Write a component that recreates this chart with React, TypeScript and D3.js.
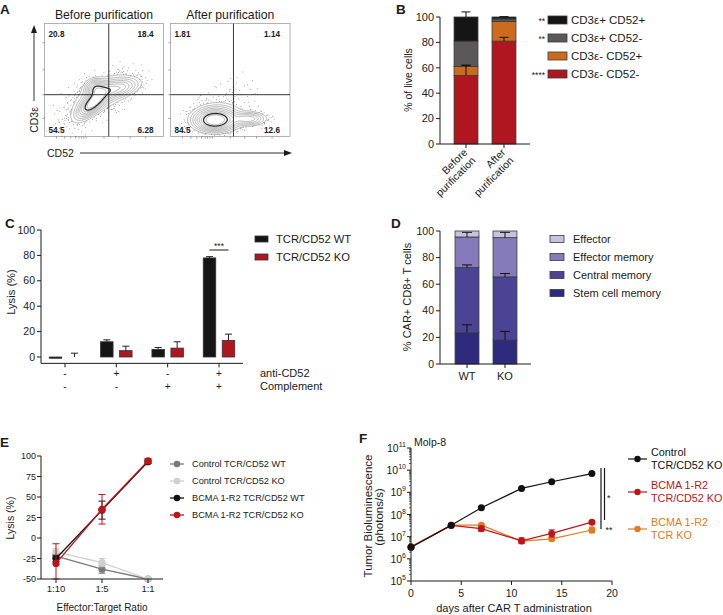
import React from "react";
import * as d3 from "d3";

const FONT = "'Liberation Sans', Arial, Helvetica, sans-serif";
const INK = "#1a1a1a";

// ---------------- Panel A (flow cytometry) ----------------
const flowTitles = ["Before purification", "After purification"];
const beforeQuadrants = ["20.8", "18.4", "54.5", "6.28"];
const afterQuadrants = ["1.81", "1.14", "84.5", "12.6"];
// cluster descriptors: [u, v, spreadU, spreadV, rotationDeg, weight] in plot-box fractions
const beforeClusters = [
  [0.41, 0.7, 0.1, 0.04, -45, 1.0],
  [0.43, 0.57, 0.05, 0.045, -10, 0.6],
  [0.63, 0.57, 0.1, 0.045, -15, 0.5],
  [0.48, 0.63, 0.16, 0.08, -30, 0.3],
  [0.2, 0.86, 0.12, 0.1, 0, 0.025],
];
const afterClusters = [
  [0.37, 0.855, 0.1, 0.055, 0, 1.0],
  [0.66, 0.84, 0.08, 0.035, 0, 0.45],
  [0.4, 0.8, 0.12, 0.07, 0, 0.22],
  [0.55, 0.55, 0.12, 0.12, 0, 0.015],
];
const beforeGate = [0.54, 0.63];
const afterGate = [0.527, 0.63];

// ---------------- Panel B ----------------
const bCategories = ["Before purification", "After purification"];
const bNegNeg = [54, 81];
const bNegPos = [7, 15.5];
const bPosNeg = [20, 2];
const bPosPos = [19, 1.5];
const bNegNegErr = [8, 3];
const bNegPosErr = [1, 0];
const bPosNegErr = [0, 0];
const bPosPosErr = [4, 0.3];
const bLabels = ["CD3ε- CD52-", "CD3ε- CD52+", "CD3ε+ CD52-", "CD3ε+ CD52+"];
const bStars = ["****", "", "**", "**"];
const bColors = ["#b0161f", "#cc6a1f", "#5b5859", "#151515"];
const bTicks = [0, 20, 40, 60, 80, 100];

// ---------------- Panel C ----------------
const cGroups = ["g1", "g2", "g3", "g4"];
const cAntiCD52 = ["-", "+", "-", "+"];
const cComplement = ["-", "-", "+", "+"];
const cWT = [-1, 12, 6, 78];
const cWTErr = [0, 1.5, 1.5, 1];
const cKO = [0, 5, 7, 13];
const cKOErr = [3, 3.5, 5, 5];
const cSeries = ["TCR/CD52 WT", "TCR/CD52 KO"];
const cColors = ["#151515", "#b0161f"];
const cTicks = [0, 20, 40, 60, 80, 100];

// ---------------- Panel D ----------------
const dGroups = ["WT", "KO"];
const dStem = [23.5, 18];
const dCentral = [49, 47.5];
const dEffMem = [23, 29.5];
const dEff = [4.5, 5];
const dStemErr = [6, 6.5];
const dCentralErr = [2, 2.5];
const dEffMemErr = [3.5, 4];
const dLabels = ["Stem cell memory", "Central memory", "Effector memory", "Effector"];
const dColors = ["#2e2a7d", "#4b4394", "#857bba", "#c8c2e2"];
const dTicks = [0, 20, 40, 60, 80, 100];

// ---------------- Panel E ----------------
const eRatios = ["1:10", "1:5", "1:1"];
const eCtrlWT = [-22, -38, -50];
const eCtrlWTErr = [3, 5, 1];
const eCtrlKO = [-17, -30, -50];
const eCtrlKOErr = [4, 5, 1];
const eBcmaWT = [-25, 34, 93];
const eBcmaWTErr = [4, 11, 2];
const eBcmaKO = [-31, 35, 94];
const eBcmaKOErr = [24, 18, 3];
const eNames = ["Control TCR/CD52 WT", "Control TCR/CD52 KO", "BCMA 1-R2 TCR/CD52 WT", "BCMA 1-R2 TCR/CD52 KO"];
const eColors = ["#7a7a7a", "#cfcfcf", "#111111", "#c0141c"];
const eTicks = [-50, -25, 0, 25, 50, 75, 100];

// ---------------- Panel F ----------------
const fDays = [0, 4, 7, 11, 14, 18];
const fControl = [3.3e6, 3.3e7, 2e8, 1.5e9, 3e9, 7e9];
const fControlErr = [1.05, 1.05, 1.05, 1.05, 1.05, 1.05];
const fBcmaCD52 = [3.3e6, 3.2e7, 2.3e7, 6.5e6, 1.4e7, 4.5e7];
const fBcmaCD52Err = [1.15, 1.1, 1.3, 1.35, 1.45, 1.15];
const fBcmaTCR = [3.6e6, 3.3e7, 3.3e7, 6.3e6, 8e6, 2e7];
const fBcmaTCRErr = [1.1, 1.1, 1.15, 1.2, 1.2, 1.35];
const fNames = [["Control", "TCR/CD52 KO"], ["BCMA 1-R2", "TCR/CD52 KO"], ["BCMA 1-R2", "TCR KO"]];
const fColors = ["#111111", "#c0141c", "#e07b22"];
const fTextColors = ["#111111", "#c0141c", "#e07b22"];
const fXTicks = [0, 5, 10, 15, 20];
const fExponents = [5, 6, 7, 8, 9, 10, 11];

function halton(i: number, b: number) {
  let f = 1, r = 0;
  while (i > 0) { f /= b; r += f * (i % b); i = Math.floor(i / b); }
  return r;
}

function ErrBar({ x, y1, y2, cap, color, sw = 1 }: any) {
  return (
    <g stroke={color} strokeWidth={sw}>
      <line x1={x} x2={x} y1={y1} y2={y2} />
      <line x1={x - cap / 2} x2={x + cap / 2} y1={y2} y2={y2} />
    </g>
  );
}

function Flow({ x0, y0, w, h, clusters, gate, quads, title }: any) {
  const dens = (u: number, v: number) => {
    let s = 0;
    for (const [cu, cv, sx, sy, rot, wt] of clusters) {
      const a = (rot * Math.PI) / 180;
      const du = u - cu, dv = v - cv;
      const p = du * Math.cos(a) + dv * Math.sin(a);
      const q = -du * Math.sin(a) + dv * Math.cos(a);
      s += wt * Math.exp(-0.5 * ((p * p) / (sx * sx) + (q * q) / (sy * sy)));
    }
    return s;
  };
  const nx = Math.round(w * 1.5), ny = Math.round(h * 1.5);
  const values = new Array(nx * ny);
  let mx = 0;
  for (let j = 0; j < ny; j++)
    for (let i = 0; i < nx; i++) {
      const d = dens((i + 0.5) / nx, (j + 0.5) / ny);
      values[j * nx + i] = d;
      if (d > mx) mx = d;
    }
  const low = 0.08;
  const levels = [low, 0.13, 0.19, 0.26, 0.34, 0.43, 0.53, 0.64, 0.76];
  const contours = d3.contours().size([nx, ny]).thresholds(levels.map((t) => t * mx))(values);
  const path = d3.geoPath(d3.geoIdentity().scale(w / nx));
  const dots: number[][] = [];
  for (let i = 1; i < 5000; i++) {
    const u = halton(i, 2), v = halton(i, 3), r = halton(i, 5);
    const d = dens(u, v) / mx;
    if (d < low && d > 0.004 && r < Math.min(1, d / low) * 0.55) dots.push([u, v]);
  }
  const gx = x0 + gate[0] * w, gy = y0 + gate[1] * h;
  const leftTicks = [0.17, 0.41, 0.63, 0.84];
  const bottomTicks = [0.1, 0.17, 0.22, 0.26, 0.29, 0.31, 0.33, 0.35, 0.5, 0.62, 0.72, 0.85];
  return (
    <g>
      <text x={x0 + w / 2} y={y0 - 5} textAnchor="middle" fontSize={12.2} fill={INK}>{title}</text>
      <rect x={x0} y={y0} width={w} height={h} fill="#fff" stroke="#a0a0a0" strokeWidth={0.8} />
      {leftTicks.map((t, i) => (
        <line key={"l" + i} x1={x0 - 2} x2={x0} y1={y0 + t * h} y2={y0 + t * h} stroke="#777" strokeWidth={0.7} />
      ))}
      {bottomTicks.map((t, i) => (
        <line key={"b" + i} x1={x0 + t * w} x2={x0 + t * w} y1={y0 + h} y2={y0 + h + 2} stroke="#777" strokeWidth={0.7} />
      ))}
      {dots.map((p, i) => (
        <rect key={i} x={x0 + p[0] * w - 0.35} y={y0 + p[1] * h - 0.35} width={0.7} height={0.7} fill="#555" />
      ))}
      <g transform={`translate(${x0},${y0})`} fill="none">
        {contours.map((c, i) => (
          <path key={i} d={path(c as any) || ""} stroke={i === levels.length - 2 ? "#2a2a2a" : "#7a7a7a"} strokeWidth={i === levels.length - 2 ? 1.3 : 0.55} />
        ))}
      </g>
      <line x1={gx} x2={gx} y1={y0} y2={y0 + h} stroke="#222" strokeWidth={0.9} />
      <line x1={x0} x2={x0 + w} y1={gy} y2={gy} stroke="#222" strokeWidth={0.9} />
      <g fontSize={8.2} fontWeight="bold" fill={INK}>
        <text x={x0 + 4} y={y0 + 13}>{quads[0]}</text>
        <text x={x0 + w - 10} y={y0 + 13} textAnchor="end">{quads[1]}</text>
        <text x={x0 + 4} y={y0 + h - 4}>{quads[2]}</text>
        <text x={x0 + w - 10} y={y0 + h - 4} textAnchor="end">{quads[3]}</text>
      </g>
    </g>
  );
}

function PanelA() {
  return (
    <g>
      <text x={0} y={14} fontSize={13.5} fontWeight="bold" fill={INK}>A</text>
      <Flow x0={44.5} y0={23.5} w={119} h={113} clusters={beforeClusters} gate={beforeGate} quads={beforeQuadrants} title={flowTitles[0]} />
      <Flow x0={170.5} y0={23.5} w={119.5} h={113} clusters={afterClusters} gate={afterGate} quads={afterQuadrants} title={flowTitles[1]} />
      <line x1={34} x2={34} y1={101} y2={31} stroke={INK} strokeWidth={0.9} />
      <polygon points="34,25 31,33 37,33" fill={INK} />
      <text transform="translate(38,120) rotate(-90)" textAnchor="middle" fontSize={10.5} fill={INK}>CD3ε</text>
      <text x={47} y={157} fontSize={10.5} fill={INK}>CD52</text>
      <line x1={80} x2={285} y1={153} y2={153} stroke={INK} strokeWidth={0.9} />
      <polygon points="292,153 284,150 284,156" fill={INK} />
    </g>
  );
}

function PanelB() {
  const y = d3.scaleLinear().domain([0, 100]).range([144, 17]);
  const x = d3.scaleBand().domain(bCategories).range([440, 530]).padding(0.37);
  const layers = [bNegNeg, bNegPos, bPosNeg, bPosPos];
  const errs = [bNegNegErr, bNegPosErr, bPosNegErr, bPosPosErr];
  const bw = x.bandwidth();
  return (
    <g>
      <text x={396} y={14} fontSize={13.5} fontWeight="bold" fill={INK}>B</text>
      {bCategories.map((c, ci) => {
        let base = 0;
        const segs: any[] = [];
        const ebs: any[] = [];
        layers.forEach((arr, li) => {
          const top = base + arr[ci];
          segs.push(
            <rect key={li} x={x(c)} y={y(top)} width={bw} height={y(base) - y(top)} fill={bColors[li]} stroke="#3a3a3a" strokeWidth={0.8} />
          );
          if (errs[li][ci] > 0)
            ebs.push(<ErrBar key={"e" + li} x={x(c)! + bw / 2} y1={y(top)} y2={y(top + errs[li][ci])} cap={9} color="#111" sw={1} />);
          base = top;
        });
        return <g key={c}>{segs}{ebs}</g>;
      })}
      <line x1={440} x2={440} y1={y(0)} y2={y(100)} stroke={INK} strokeWidth={1} />
      {bTicks.map((t) => (
        <g key={t}>
          <line x1={436} x2={440} y1={y(t)} y2={y(t)} stroke={INK} />
          <text x={434} y={y(t)} dy="0.35em" textAnchor="end" fontSize={11} fill={INK}>{t}</text>
        </g>
      ))}
      <line x1={440} x2={530} y1={y(0)} y2={y(0)} stroke={INK} strokeWidth={1} />
      {bCategories.map((c) => {
        const cx = x(c)! + bw / 2;
        const words = c.split(" ");
        return (
          <g key={c}>
            <line x1={cx} x2={cx} y1={y(0)} y2={y(0) + 4} stroke={INK} />
            <text transform={`translate(${cx + 2},${y(0) + 9}) rotate(-45)`} textAnchor="end" fontSize={10.5} fill={INK}>
              <tspan x={0} dy="0">{words[0]}</tspan>
              <tspan x={0} dy="1.1em">{words[1]}</tspan>
            </text>
          </g>
        );
      })}
      <text transform="translate(412,80) rotate(-90)" textAnchor="middle" fontSize={10.5} fill={INK}>% of live cells</text>
      {[3, 2, 1, 0].map((li, k) => {
        const cy = 20 + k * 18;
        return (
          <g key={li}>
            <text x={545} y={cy + 3.5} textAnchor="end" fontSize={8.5} fill={INK}>{bStars[li]}</text>
            <rect x={548} y={cy - 4} width={19} height={8} fill={bColors[li]} stroke="#3a3a3a" strokeWidth={0.8} />
            <text x={571} y={cy} dy="0.35em" fontSize={11.5} fill={INK}>{bLabels[li]}</text>
          </g>
        );
      })}
    </g>
  );
}

function PanelC() {
  const y = d3.scaleLinear().domain([0, 100]).range([357, 230]);
  const x = d3.scalePoint().domain(cGroups).range([65, 219]);
  const bw = 12.5, off = 9.5;
  const series = [cWT, cKO];
  const errs = [cWTErr, cKOErr];
  const axisY = y(-5);
  return (
    <g>
      <text x={5} y={228} fontSize={13.5} fontWeight="bold" fill={INK}>C</text>
      {cGroups.map((g, gi) =>
        series.map((s, si) => {
          const cx = x(g)! + (si === 0 ? -off : off);
          const v = s[gi];
          const top = Math.max(v, 0), bot = Math.min(v, 0);
          return (
            <g key={g + si}>
              {v !== 0 && (
                <rect x={cx - bw / 2} y={y(top)} width={bw} height={Math.max(1, y(bot) - y(top))} fill={cColors[si]} stroke="#333" strokeWidth={0.8} />
              )}
              {errs[si][gi] > 0 && (
                <ErrBar x={cx} y1={y(top)} y2={y(top + errs[si][gi])} cap={7} color="#222" sw={1} />
              )}
            </g>
          );
        })
      )}
      <line x1={41} x2={41} y1={axisY} y2={y(100)} stroke={INK} strokeWidth={1} />
      {cTicks.map((t) => (
        <g key={t}>
          <line x1={37} x2={41} y1={y(t)} y2={y(t)} stroke={INK} />
          <text x={35} y={y(t)} dy="0.35em" textAnchor="end" fontSize={10.5} fill={INK}>{t}</text>
        </g>
      ))}
      <line x1={41} x2={243} y1={axisY} y2={axisY} stroke={INK} strokeWidth={1} />
      {cGroups.map((g, gi) => (
        <g key={g}>
          <line x1={x(g)} x2={x(g)} y1={axisY} y2={axisY + 4} stroke={INK} />
          <text x={x(g)} y={377} textAnchor="middle" fontSize={10} fill={INK}>{cAntiCD52[gi]}</text>
          <text x={x(g)} y={390} textAnchor="middle" fontSize={10} fill={INK}>{cComplement[gi]}</text>
        </g>
      ))}
      <text x={260} y={377} fontSize={11} fill={INK}>anti-CD52</text>
      <text x={260} y={390} fontSize={11} fill={INK}>Complement</text>
      {(() => {
        const x1 = x(cGroups[3])! - off, x2 = x(cGroups[3])! + off;
        return (
          <g>
            <line x1={x1} x2={x2} y1={250} y2={250} stroke={INK} strokeWidth={1} />
            <text x={(x1 + x2) / 2} y={248.5} textAnchor="middle" fontSize={8.5} fill={INK}>***</text>
          </g>
        );
      })()}
      <text transform="translate(15,292) rotate(-90)" textAnchor="middle" fontSize={11.2} fill={INK}>Lysis (%)</text>
      {cSeries.map((s, si) => (
        <g key={s}>
          <rect x={255} y={236 + si * 18} width={13} height={6} fill={cColors[si]} stroke="#333" strokeWidth={0.8} />
          <text x={276} y={239 + si * 18} dy="0.35em" fontSize={11.2} fill={INK}>{s}</text>
        </g>
      ))}
    </g>
  );
}

function PanelD() {
  const y = d3.scaleLinear().domain([0, 100]).range([364, 231]);
  const x = d3.scaleBand().domain(dGroups).range([441, 531]).padding(0.37);
  const bw = x.bandwidth();
  const layers = [dStem, dCentral, dEffMem, dEff];
  const errs = [dStemErr, dCentralErr, dEffMemErr, [0, 0]];
  return (
    <g>
      <text x={391} y={228} fontSize={13.5} fontWeight="bold" fill={INK}>D</text>
      {dGroups.map((g, gi) => {
        let base = 0;
        const segs: any[] = [];
        const ebs: any[] = [];
        layers.forEach((arr, li) => {
          const top = Math.min(100, base + arr[gi]);
          segs.push(<rect key={li} x={x(g)} y={y(top)} width={bw} height={y(base) - y(top)} fill={dColors[li]} stroke="#3a3a3a" strokeWidth={0.8} />);
          if (errs[li][gi] > 0)
            ebs.push(<ErrBar key={"e" + li} x={x(g)! + bw / 2} y1={y(top)} y2={y(top + errs[li][gi])} cap={10} color="#111" sw={1} />);
          base = top;
        });
        return <g key={g}>{segs}{ebs}</g>;
      })}
      <line x1={440} x2={440} y1={y(0)} y2={y(100)} stroke={INK} strokeWidth={1} />
      {dTicks.map((t) => (
        <g key={t}>
          <line x1={436} x2={440} y1={y(t)} y2={y(t)} stroke={INK} />
          <text x={434} y={y(t)} dy="0.35em" textAnchor="end" fontSize={10.5} fill={INK}>{t}</text>
        </g>
      ))}
      <line x1={440} x2={531} y1={y(0)} y2={y(0)} stroke={INK} strokeWidth={1} />
      {dGroups.map((g) => (
        <g key={g}>
          <line x1={x(g)! + bw / 2} x2={x(g)! + bw / 2} y1={y(0)} y2={y(0) + 4} stroke={INK} />
          <text x={x(g)! + bw / 2} y={380} textAnchor="middle" fontSize={11} fill={INK}>{g}</text>
        </g>
      ))}
      <text transform="translate(411,297) rotate(-90)" textAnchor="middle" fontSize={11} fill={INK}>% CAR+ CD8+ T cells</text>
      {[3, 2, 1, 0].map((li, k) => (
        <g key={li}>
          <rect x={550} y={235.5 + k * 18} width={14} height={7} fill={dColors[li]} stroke="#3a3a3a" strokeWidth={0.8} />
          <text x={573} y={239 + k * 18} dy="0.35em" fontSize={11} fill={INK}>{dLabels[li]}</text>
        </g>
      ))}
    </g>
  );
}

function PanelE() {
  const y = d3.scaleLinear().domain([-50, 100]).range([579, 456]);
  const x = d3.scalePoint().domain(eRatios).range([56, 148]);
  const series = [eCtrlWT, eCtrlKO, eBcmaWT, eBcmaKO];
  const errs = [eCtrlWTErr, eCtrlKOErr, eBcmaWTErr, eBcmaKOErr];
  const line = d3.line<number>().x((_, i) => x(eRatios[i])!).y((d) => y(d));
  return (
    <g>
      <text x={0} y={447} fontSize={13.5} fontWeight="bold" fill={INK}>E</text>
      {series.map((s, si) => (
        <g key={si}>
          {s.map((v, i) => {
            const cx = x(eRatios[i])!;
            return (
              <g key={i} stroke={eColors[si]} strokeWidth={1}>
                <line x1={cx} x2={cx} y1={y(Math.max(-50, v - errs[si][i]))} y2={y(v + errs[si][i])} />
                <line x1={cx - 3.5} x2={cx + 3.5} y1={y(v + errs[si][i])} y2={y(v + errs[si][i])} />
                <line x1={cx - 3.5} x2={cx + 3.5} y1={y(Math.max(-50, v - errs[si][i]))} y2={y(Math.max(-50, v - errs[si][i]))} />
              </g>
            );
          })}
          <path d={line(s) || ""} fill="none" stroke={eColors[si]} strokeWidth={1.3} />
          {s.map((v, i) => (
            <circle key={"c" + i} cx={x(eRatios[i])} cy={y(v)} r={3.6} fill={eColors[si]} />
          ))}
        </g>
      ))}
      <line x1={41} x2={41} y1={y(-50)} y2={y(100)} stroke={INK} strokeWidth={1} />
      {eTicks.map((t) => (
        <g key={t}>
          <line x1={37} x2={41} y1={y(t)} y2={y(t)} stroke={INK} />
          <text x={36} y={y(t)} dy="0.35em" textAnchor="end" fontSize={9} fill={INK}>{t}</text>
        </g>
      ))}
      <line x1={41} x2={163} y1={y(-50)} y2={y(-50)} stroke={INK} strokeWidth={1} />
      {eRatios.map((r) => (
        <g key={r}>
          <line x1={x(r)} x2={x(r)} y1={y(-50)} y2={y(-50) + 4} stroke={INK} />
          <text x={x(r)} y={592} textAnchor="middle" fontSize={9.5} fill={INK}>{r}</text>
        </g>
      ))}
      <text x={102} y={611} textAnchor="middle" fontSize={10} fill={INK}>Effector:Target Ratio</text>
      <text transform="translate(14,518) rotate(-90)" textAnchor="middle" fontSize={10.5} fill={INK}>Lysis (%)</text>
      {eNames.map((n, i) => (
        <g key={n}>
          <line x1={170} x2={184} y1={464 + i * 17} y2={464 + i * 17} stroke={eColors[i]} strokeWidth={1.3} />
          <circle cx={177} cy={464 + i * 17} r={3.3} fill={eColors[i]} />
          <text x={192} y={464 + i * 17} dy="0.35em" fontSize={9.2} fill={INK}>{n}</text>
        </g>
      ))}
    </g>
  );
}

function PanelF() {
  const y = d3.scaleLog().domain([1e5, 1e11]).range([581, 448]);
  const x = d3.scaleLinear().domain([0, 20]).range([411, 612]);
  const series = [fControl, fBcmaCD52, fBcmaTCR];
  const errs = [fControlErr, fBcmaCD52Err, fBcmaTCRErr];
  const line = d3.line<number>().x((_, i) => x(fDays[i])).y((d) => y(d));
  const minors: number[] = [];
  for (let e = 5; e < 11; e++) for (let m = 2; m <= 9; m++) minors.push(m * Math.pow(10, e));
  return (
    <g>
      <text x={359} y={443} fontSize={13.5} fontWeight="bold" fill={INK}>F</text>
      <text x={414} y={446} fontSize={10.5} fill={INK}>Molp-8</text>
      {[2, 1, 0].map((si) => (
        <g key={si}>
          <path d={line(series[si]) || ""} fill="none" stroke={fColors[si]} strokeWidth={1.2} />
          {series[si].map((v, i) => {
            const cx = x(fDays[i]);
            const hi = v * errs[si][i], lo = v / errs[si][i];
            return (
              <g key={i}>
                <g stroke={fColors[si]} strokeWidth={1}>
                  <line x1={cx} x2={cx} y1={y(lo)} y2={y(hi)} />
                  <line x1={cx - 3} x2={cx + 3} y1={y(hi)} y2={y(hi)} />
                  <line x1={cx - 3} x2={cx + 3} y1={y(lo)} y2={y(lo)} />
                </g>
                <circle cx={cx} cy={y(v)} r={3.5} fill={fColors[si]} />
              </g>
            );
          })}
        </g>
      ))}
      <line x1={411} x2={411} y1={y(1e5)} y2={y(1e11)} stroke={INK} strokeWidth={1} />
      {minors.map((m, i) => (
        <line key={i} x1={409} x2={411} y1={y(m)} y2={y(m)} stroke={INK} strokeWidth={0.7} />
      ))}
      {fExponents.map((e) => (
        <g key={e}>
          <line x1={407} x2={411} y1={y(Math.pow(10, e))} y2={y(Math.pow(10, e))} stroke={INK} />
          <text x={406} y={y(Math.pow(10, e)) + 4} textAnchor="end" fontSize={10.5} fill={INK}>
            10<tspan dy={-5} fontSize={7}>{e}</tspan>
          </text>
        </g>
      ))}
      <line x1={411} x2={612} y1={y(1e5)} y2={y(1e5)} stroke={INK} strokeWidth={1} />
      {fXTicks.map((t) => (
        <g key={t}>
          <line x1={x(t)} x2={x(t)} y1={y(1e5)} y2={y(1e5) + 4} stroke={INK} />
          <text x={x(t)} y={597} textAnchor="middle" fontSize={10.5} fill={INK}>{t}</text>
        </g>
      ))}
      <text x={514} y={612} textAnchor="middle" fontSize={11} fill={INK}>days after CAR T administration</text>
      <text transform="translate(372,516) rotate(-90)" textAnchor="middle" fontSize={11.5} fill={INK}>Tumor Bioluminescence</text>
      <text transform="translate(383,517) rotate(-90)" textAnchor="middle" fontSize={11.5} fill={INK}>(photons/s)</text>
      <line x1={601} x2={601} y1={468} y2={529} stroke={INK} strokeWidth={1.2} />
      <line x1={604.5} x2={604.5} y1={468} y2={520} stroke={INK} strokeWidth={1.2} />
      <text x={607} y={501} fontSize={9} fill={INK}>*</text>
      <text x={605.5} y={533} fontSize={9} fill={INK}>**</text>
      {fNames.map((n, i) => {
        const cy = [459, 492, 529][i];
        return (
          <g key={i}>
            <line x1={628} x2={647} y1={cy} y2={cy} stroke={fColors[i]} strokeWidth={1.2} />
            <circle cx={637.5} cy={cy} r={3.2} fill={fColors[i]} />
            <text x={651} y={cy - 3} fontSize={10.8} fill={fTextColors[i]}>{n[0]}</text>
            <text x={651} y={cy + 10} fontSize={10.8} fill={fTextColors[i]}>{n[1]}</text>
          </g>
        );
      })}
    </g>
  );
}

export default function App() {
  return (
    <svg width={723} height={615} viewBox="0 0 723 615" style={{ position: "absolute", left: 0, top: 0, background: "#fff" }} fontFamily={FONT}>
      <rect x={0} y={0} width={723} height={615} fill="#fff" />
      <PanelA />
      <PanelB />
      <PanelC />
      <PanelD />
      <PanelE />
      <PanelF />
    </svg>
  );
}
